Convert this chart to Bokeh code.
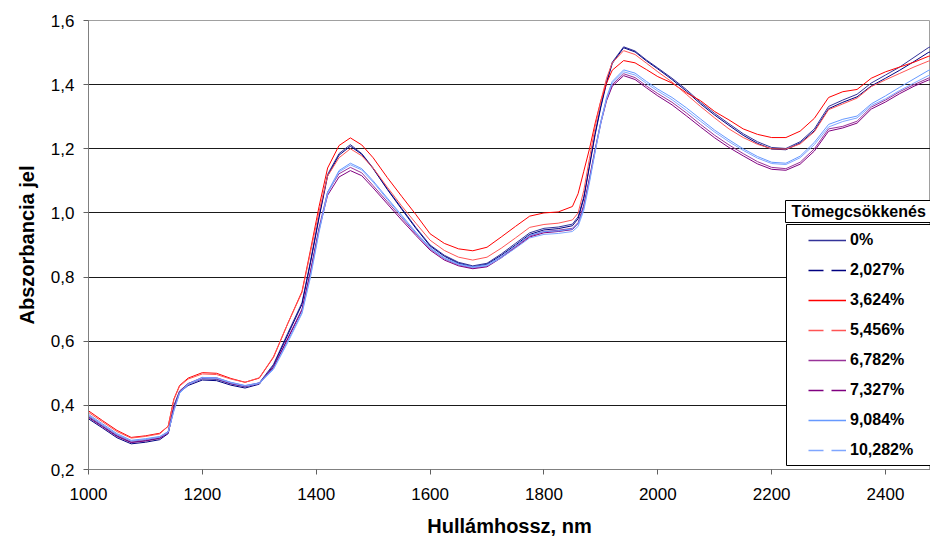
from bokeh.plotting import figure
from bokeh.models import (Range1d, FixedTicker, Legend, LegendItem, BoxAnnotation,
                          Label, CustomJSTickFormatter)
from bokeh.embed import file_html
from bokeh.resources import INLINE

wavelength = [1000, 1025, 1050, 1075, 1100, 1125, 1140, 1150, 1160, 1175,
              1200, 1225, 1250, 1275, 1300, 1325, 1350, 1375, 1390, 1405,
              1420, 1440, 1460, 1480, 1500, 1525, 1550, 1575, 1600, 1625,
              1650, 1675, 1700, 1725, 1750, 1775, 1800, 1825, 1850, 1860,
              1870, 1880, 1890, 1900, 1910, 1920, 1940, 1960, 1980, 2000,
              2025, 2050, 2075, 2100, 2125, 2150, 2175, 2200, 2225, 2250,
              2275, 2300, 2325, 2350, 2375, 2400, 2425, 2450, 2475, 2500]

abs_0 = [0.365, 0.335, 0.305, 0.285, 0.290, 0.298, 0.318, 0.400, 0.445, 0.468,
         0.483, 0.481, 0.467, 0.458, 0.470, 0.528, 0.625, 0.720, 0.850, 0.990,
         1.120, 1.185, 1.213, 1.185, 1.140, 1.075, 1.015, 0.955, 0.900, 0.868,
         0.846, 0.835, 0.843, 0.872, 0.905, 0.938, 0.952, 0.956, 0.965, 0.988,
         1.050, 1.150, 1.250, 1.335, 1.410, 1.470, 1.518, 1.505, 1.477, 1.452,
         1.420, 1.385, 1.345, 1.310, 1.278, 1.247, 1.222, 1.204, 1.201, 1.222,
         1.262, 1.332, 1.352, 1.370, 1.405, 1.430, 1.455, 1.485, 1.515, 1.535]

abs_2027 = [0.358, 0.329, 0.299, 0.280, 0.285, 0.293, 0.312, 0.392, 0.440, 0.462,
            0.479, 0.477, 0.463, 0.454, 0.466, 0.524, 0.620, 0.715, 0.845, 0.985,
            1.115, 1.180, 1.208, 1.183, 1.138, 1.073, 1.012, 0.952, 0.897, 0.865,
            0.843, 0.832, 0.840, 0.868, 0.900, 0.933, 0.947, 0.951, 0.960, 0.982,
            1.045, 1.145, 1.245, 1.330, 1.405, 1.466, 1.515, 1.502, 1.474, 1.449,
            1.416, 1.380, 1.340, 1.305, 1.273, 1.242, 1.217, 1.199, 1.197, 1.218,
            1.256, 1.325, 1.345, 1.362, 1.396, 1.420, 1.445, 1.472, 1.500, 1.515]

abs_3624 = [0.383, 0.352, 0.322, 0.300, 0.305, 0.313, 0.335, 0.420, 0.462, 0.485,
            0.502, 0.500, 0.484, 0.472, 0.485, 0.550, 0.655, 0.755, 0.885, 1.020,
            1.140, 1.210, 1.234, 1.212, 1.172, 1.110, 1.052, 0.995, 0.935, 0.905,
            0.888, 0.882, 0.893, 0.925, 0.958, 0.990, 1.000, 1.003, 1.020, 1.060,
            1.130, 1.200, 1.280, 1.350, 1.405, 1.445, 1.475, 1.468, 1.447, 1.425,
            1.405, 1.375, 1.350, 1.316, 1.290, 1.262, 1.245, 1.235, 1.235, 1.255,
            1.295, 1.360, 1.378, 1.385, 1.420, 1.440, 1.455, 1.470, 1.488, 1.500]

abs_5456 = [0.378, 0.348, 0.318, 0.298, 0.303, 0.311, 0.335, 0.418, 0.460, 0.482,
            0.498, 0.496, 0.482, 0.472, 0.486, 0.552, 0.655, 0.752, 0.878, 1.005,
            1.115, 1.172, 1.200, 1.178, 1.140, 1.080, 1.022, 0.968, 0.915, 0.883,
            0.862, 0.853, 0.862, 0.890, 0.922, 0.955, 0.964, 0.968, 0.978, 1.000,
            1.070, 1.170, 1.270, 1.350, 1.420, 1.468, 1.506, 1.494, 1.467, 1.440,
            1.408, 1.370, 1.332, 1.296, 1.262, 1.235, 1.214, 1.200, 1.199, 1.215,
            1.253, 1.322, 1.340, 1.358, 1.394, 1.415, 1.435, 1.455, 1.473, 1.485]

abs_6782 = [0.368, 0.338, 0.308, 0.288, 0.293, 0.301, 0.318, 0.392, 0.443, 0.468,
            0.487, 0.486, 0.471, 0.461, 0.470, 0.520, 0.610, 0.700, 0.820, 0.955,
            1.065, 1.122, 1.142, 1.125, 1.085, 1.035, 0.985, 0.935, 0.888, 0.857,
            0.838, 0.828, 0.834, 0.862, 0.895, 0.928, 0.942, 0.946, 0.952, 0.970,
            1.025, 1.110, 1.200, 1.285, 1.355, 1.400, 1.434, 1.422, 1.396, 1.372,
            1.345, 1.312, 1.276, 1.242, 1.212, 1.185, 1.160, 1.142, 1.138, 1.158,
            1.200, 1.262, 1.270, 1.286, 1.330, 1.352, 1.378, 1.400, 1.420, 1.432]

abs_7327 = [0.362, 0.333, 0.303, 0.284, 0.289, 0.297, 0.314, 0.388, 0.440, 0.465,
            0.484, 0.483, 0.468, 0.459, 0.468, 0.518, 0.607, 0.697, 0.815, 0.948,
            1.055, 1.112, 1.132, 1.116, 1.078, 1.028, 0.978, 0.930, 0.884, 0.853,
            0.835, 0.826, 0.832, 0.860, 0.892, 0.925, 0.938, 0.942, 0.948, 0.966,
            1.020, 1.105, 1.195, 1.280, 1.350, 1.395, 1.428, 1.416, 1.390, 1.365,
            1.337, 1.303, 1.268, 1.234, 1.204, 1.178, 1.153, 1.136, 1.133, 1.152,
            1.193, 1.255, 1.265, 1.280, 1.324, 1.346, 1.372, 1.395, 1.414, 1.426]

abs_9084 = [0.372, 0.342, 0.312, 0.291, 0.296, 0.303, 0.318, 0.385, 0.440, 0.467,
            0.487, 0.486, 0.472, 0.462, 0.470, 0.515, 0.600, 0.690, 0.805, 0.945,
            1.065, 1.132, 1.155, 1.138, 1.100, 1.046, 0.993, 0.940, 0.892, 0.860,
            0.841, 0.832, 0.838, 0.864, 0.897, 0.930, 0.942, 0.944, 0.950, 0.966,
            1.015, 1.100, 1.195, 1.285, 1.360, 1.410, 1.446, 1.436, 1.410, 1.386,
            1.360, 1.328, 1.293, 1.258, 1.228, 1.200, 1.176, 1.158, 1.155, 1.177,
            1.220, 1.276, 1.292, 1.302, 1.340, 1.365, 1.392, 1.418, 1.444, 1.460]

abs_10282 = [0.368, 0.338, 0.309, 0.289, 0.294, 0.301, 0.316, 0.382, 0.437, 0.465,
             0.485, 0.484, 0.470, 0.460, 0.468, 0.512, 0.596, 0.686, 0.800, 0.940,
             1.060, 1.128, 1.150, 1.134, 1.096, 1.042, 0.990, 0.937, 0.889, 0.858,
             0.839, 0.830, 0.835, 0.860, 0.890, 0.922, 0.933, 0.936, 0.942, 0.958,
             1.008, 1.095, 1.190, 1.280, 1.355, 1.405, 1.440, 1.430, 1.404, 1.380,
             1.353, 1.320, 1.286, 1.252, 1.222, 1.195, 1.171, 1.154, 1.151, 1.172,
             1.213, 1.268, 1.285, 1.296, 1.335, 1.356, 1.382, 1.405, 1.428, 1.440]

series_labels = ["0%", "2,027%", "3,624%", "5,456%", "6,782%", "7,327%", "9,084%", "10,282%"]
series_values = [abs_0, abs_2027, abs_3624, abs_5456, abs_6782, abs_7327, abs_9084, abs_10282]
series_colors = ["#333399", "#000080", "#FF0000", "#FF5555", "#993399", "#800080", "#6699FF", "#7FA6FF"]
series_dashes = ["solid", "15 8", "solid", "15 8", "solid", "15 8", "solid", "15 8"]

x_ticks = [1000, 1200, 1400, 1600, 1800, 2000, 2200, 2400]
y_ticks = [0.2, 0.4, 0.6, 0.8, 1.0, 1.2, 1.4, 1.6]
grid_ticks = [0.4, 0.6, 0.8, 1.0, 1.2, 1.4]

legend_title = "Tömegcsökkenés"
x_title = "Hullámhossz, nm"
y_title = "Abszorbancia jel"

FONT = "Liberation Sans"

p = figure(width=930, height=544, output_backend="svg", toolbar_location=None,
           x_range=Range1d(1000, 2479), y_range=Range1d(0.2, 1.6),
           min_border_left=88, min_border_right=0, min_border_top=20, min_border_bottom=75,
           background_fill_color="white", border_fill_color="white")
p.outline_line_color = "#a0a0a0"
p.outline_line_width = 1

p.xgrid.visible = False
p.ygrid.ticker = FixedTicker(ticks=grid_ticks)
p.ygrid.grid_line_color = "#1a1a1a"
p.ygrid.grid_line_width = 1

for ax in (p.xaxis[0], p.yaxis[0]):
    ax.axis_line_color = "#808080"
    ax.major_tick_line_color = "#606060"
    ax.major_tick_out = 5
    ax.major_tick_in = 0
    ax.minor_tick_out = 0
    ax.minor_tick_in = 0
    ax.major_label_text_font = FONT
    ax.major_label_text_font_size = "17px"
    ax.major_label_text_color = "black"
    ax.axis_label_text_font = FONT
    ax.axis_label_text_font_style = "bold"
    ax.axis_label_text_font_size = "20px"
    ax.axis_label_text_color = "black"

p.xaxis.ticker = FixedTicker(ticks=x_ticks)
p.yaxis.ticker = FixedTicker(ticks=y_ticks)
p.yaxis.formatter = CustomJSTickFormatter(code="return tick.toFixed(1).replace('.', ',');")
p.xaxis.axis_label = x_title
p.yaxis.axis_label = y_title
p.xaxis.major_label_standoff = 13
p.xaxis.axis_label_standoff = 12
p.yaxis.major_label_standoff = 9
p.yaxis.axis_label_standoff = 10

for ys, c in zip(series_values, series_colors):
    p.line(wavelength, ys, line_color=c, line_width=1)

# hidden copies of the series, styled as the legend swatches
items = []
for lab, ys, c, d in zip(series_labels, series_values, series_colors, series_dashes):
    proxy = p.line(wavelength, ys, line_color=c, line_width=1.5, line_dash=d, visible=False)
    items.append(LegendItem(label=lab, renderers=[proxy]))

title_box = BoxAnnotation(left=697, right=900, bottom=247, top=269,
                          left_units="screen", right_units="screen",
                          bottom_units="screen", top_units="screen",
                          fill_color="white", fill_alpha=1.0,
                          line_color="black", line_width=1, line_alpha=1.0)
legend_box = BoxAnnotation(left=698, right=900, bottom=4, top=245,
                           left_units="screen", right_units="screen",
                           bottom_units="screen", top_units="screen",
                           fill_color="white", fill_alpha=1.0,
                           line_color="black", line_width=1, line_alpha=1.0)
p.add_layout(title_box)
p.add_layout(legend_box)

title_label = Label(x=703, y=258, x_units="screen", y_units="screen",
                    text=legend_title, text_font=FONT, text_font_style="bold",
                    text_font_size="16px", text_color="black", text_baseline="middle")
p.add_layout(title_label)

legend = Legend(items=items, location=(714, 3), orientation="vertical",
                border_line_alpha=0, background_fill_alpha=0,
                inactive_fill_alpha=0,
                padding=6, spacing=10, margin=0,
                glyph_width=38, glyph_height=20, label_height=20, label_standoff=4,
                label_text_font=FONT, label_text_font_style="bold",
                label_text_font_size="16px", label_text_color="black")
p.add_layout(legend)

open("out.html", "w").write(file_html(p, INLINE))
